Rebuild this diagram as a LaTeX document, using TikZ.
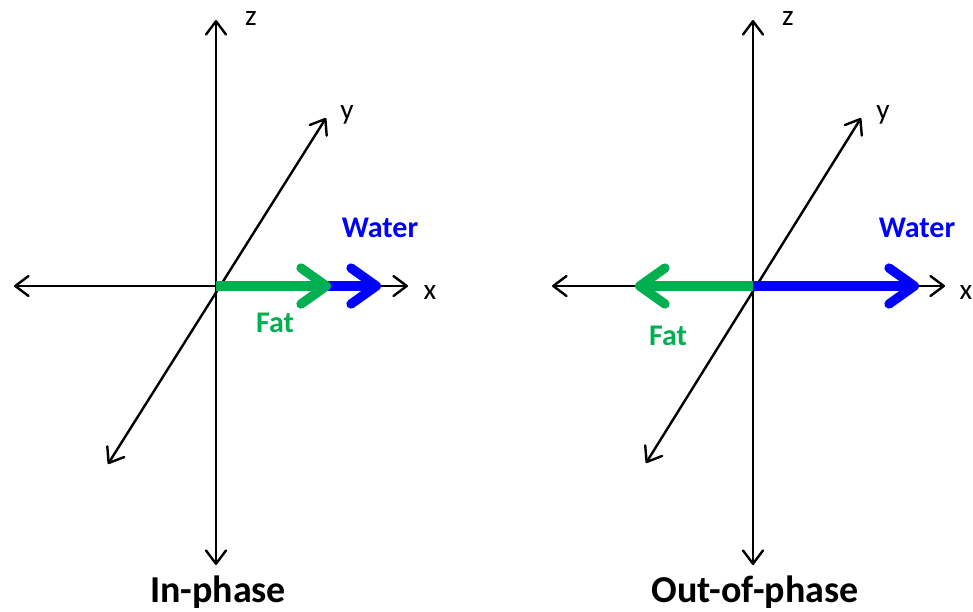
\documentclass[tikz,border=0pt]{standalone}
\usepackage{fontspec}
\setmainfont{Carlito}
\usetikzlibrary{arrows.meta}
\definecolor{fatgreen}{HTML}{00B050}
\definecolor{waterblue}{HTML}{0000FF}
\begin{document}
\begin{tikzpicture}[x=0.75pt,y=-0.75pt,
  axis/.style={line width=1.8pt,{Straight Barb[length=10pt,width=15pt,round]}-{Straight Barb[length=10pt,width=15pt,round]}},
  vec/.style={line width=7pt,-{Straight Barb[length=19pt,width=27pt,round]}},
  axlabel/.style={font=\fontsize{22}{26}\selectfont},
  veclabel/.style={font=\fontsize{22.5}{26}\selectfont\bfseries},
  title/.style={font=\fontsize{28.5}{33}\selectfont\bfseries}]
\useasboundingbox (0,0) rectangle (973,611);
% ---------- left: in-phase ----------
\coordinate (O1) at (216,286);
\coordinate (zt1) at (216,20);
\coordinate (zb1) at (216,565);
\coordinate (xl1) at (14,286);
\coordinate (xr1) at (408,286);
\coordinate (yb1) at (108,464);
\coordinate (yt1) at (326,118);
\coordinate (w1) at (381,286);
\coordinate (f1) at (331,286);
\draw[axis] (zb1) -- (zt1);
\draw[axis] (xl1) -- (xr1);
\draw[axis] (yb1) -- (yt1);
\draw[vec,waterblue] (O1) -- (w1);
\draw[vec,fatgreen] (O1) -- (f1);
\node[axlabel] (zl1) at (251,18) {z};
\node[axlabel] (yl1) at (347,115) {y};
\node[axlabel] (xlab1) at (430,292) {x};
\node[veclabel,text=waterblue] (wl1) at (380,228) {Water};
\node[veclabel,text=fatgreen] (fl1) at (275,323) {Fat};
\node[title] (t1) at (218,592) {In-phase};
% ---------- right: out-of-phase ----------
\coordinate (O2) at (753,286);
\coordinate (zt2) at (753,20);
\coordinate (zb2) at (753,565);
\coordinate (xl2) at (552,286);
\coordinate (xr2) at (945,286);
\coordinate (yb2) at (646,463);
\coordinate (yt2) at (861,118);
\coordinate (w2) at (919,286);
\coordinate (f2) at (635,286);
\draw[axis] (zb2) -- (zt2);
\draw[axis] (xl2) -- (xr2);
\draw[axis] (yb2) -- (yt2);
\draw[vec,waterblue] (O2) -- (w2);
\draw[vec,fatgreen] (O2) -- (f2);
\node[axlabel] (zl2) at (788,18) {z};
\node[axlabel] (yl2) at (883,115) {y};
\node[axlabel] (xlab2) at (966,292) {x};
\node[veclabel,text=waterblue] (wl2) at (917,228) {Water};
\node[veclabel,text=fatgreen] (fl2) at (668,336) {Fat};
\node[title] (t2) at (755,592) {Out-of-phase};
\end{tikzpicture}
\end{document}
